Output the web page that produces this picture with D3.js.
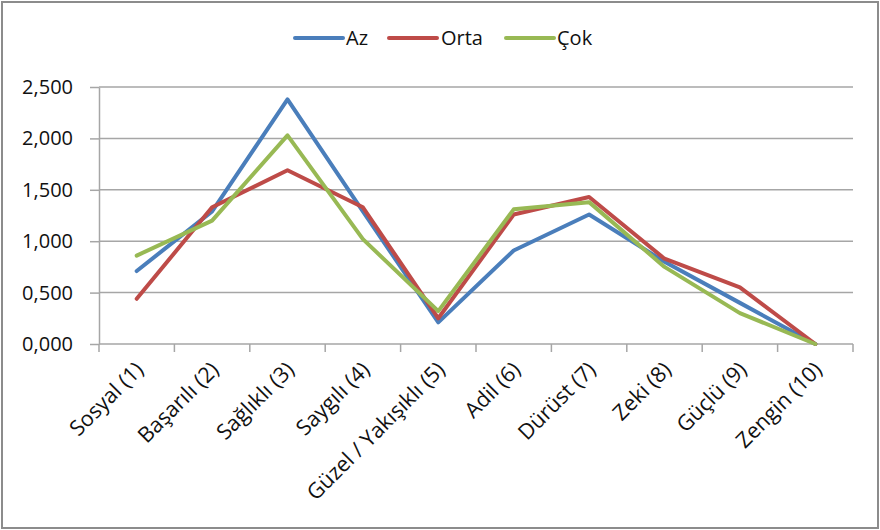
<!DOCTYPE html>
<html>
<head>
<meta charset="utf-8">
<script src="https://cdn.jsdelivr.net/npm/d3@7"></script>
<style>
  html, body { margin: 0; padding: 0; background: #fff; }
  svg { display: block; }
  text { font-family: "Open Sans", "Noto Sans", sans-serif; fill: #111; }
</style>
</head>
<body>
<svg id="chart" width="880" height="530"></svg>
<script>
const categories = ["Sosyal (1)", "Başarılı (2)", "Sağlıklı (3)", "Saygılı (4)", "Güzel / Yakışıklı (5)",
                    "Adil (6)", "Dürüst (7)", "Zeki (8)", "Güçlü (9)", "Zengin (10)"];
const seriesNames = ["Az", "Orta", "Çok"];
const azValues   = [0.71, 1.29, 2.38, 1.29, 0.21, 0.91, 1.26, 0.80, 0.40, 0.00];
const ortaValues = [0.44, 1.33, 1.69, 1.33, 0.25, 1.26, 1.43, 0.83, 0.55, 0.00];
const cokValues  = [0.86, 1.20, 2.03, 1.02, 0.32, 1.31, 1.38, 0.75, 0.30, 0.00];
const yTicks = [0, 0.5, 1.0, 1.5, 2.0, 2.5];
const colors = ["#4A7EBB", "#BE4B48", "#98B954"];

const series = [azValues, ortaValues, cokValues].map((v, i) => ({ name: seriesNames[i], values: v, color: colors[i] }));

const svg = d3.select("#chart");
const W = 880, H = 530;
const plot = { left: 99, right: 853, top: 87, bottom: 344 };

// outer frame
svg.append("rect").attr("x", 2).attr("y", 2).attr("width", W - 4).attr("height", H - 4)
  .attr("fill", "#fff").attr("stroke", "#8c8c8c").attr("stroke-width", 2);

const x = d3.scaleBand().domain(categories).range([plot.left, plot.right]).paddingInner(0).paddingOuter(0);
const y = d3.scaleLinear().domain([0, 2.5]).range([plot.bottom, plot.top]);

const trLocale = d3.formatLocale({ decimal: ",", thousands: ".", grouping: [3], currency: ["", ""] });
const fmt = trLocale.format(".3f");

// gridlines
svg.append("g").selectAll("line").data(yTicks.filter(t => t > 0)).join("line")
  .attr("x1", plot.left).attr("x2", plot.right)
  .attr("y1", d => y(d)).attr("y2", d => y(d))
  .attr("stroke", "#a6a6a6").attr("stroke-width", 1.5);

// y axis
const yAxis = d3.axisLeft(y).tickValues(yTicks).tickFormat(fmt).tickSize(9).tickSizeOuter(0).tickPadding(17);
const gy = svg.append("g").attr("transform", `translate(${plot.left},0)`).call(yAxis);
gy.select(".domain").attr("stroke", "#a6a6a6").attr("stroke-width", 1.5);
gy.selectAll(".tick line").attr("stroke", "#a6a6a6").attr("stroke-width", 1.5);
gy.selectAll(".tick text").attr("font-size", 20).attr("fill", "#111")
  .style("font-family", "'Open Sans', 'Noto Sans', sans-serif");

// x axis with ticks at band boundaries
const gx = svg.append("g").attr("transform", `translate(0,${plot.bottom})`);
gx.append("line").attr("x1", plot.left).attr("x2", plot.right).attr("y1", 0).attr("y2", 0)
  .attr("stroke", "#a6a6a6").attr("stroke-width", 1.5);
const boundaries = categories.map(c => x(c)).concat([x(categories[categories.length - 1]) + x.bandwidth()]);
gx.selectAll("line.tk").data(boundaries).join("line").attr("class", "tk")
  .attr("x1", d => d).attr("x2", d => d).attr("y1", 0).attr("y2", 8)
  .attr("stroke", "#a6a6a6").attr("stroke-width", 1.5);
gx.selectAll("text.lbl").data(categories).join("text").attr("class", "lbl")
  .attr("transform", d => `translate(${x(d) + x.bandwidth() / 2 + 8},${27}) rotate(-45)`)
  .attr("text-anchor", "end")
  .attr("font-size", 21.5)
  .text(d => d);

// lines
const line = d3.line().x((d, i) => x(categories[i]) + x.bandwidth() / 2).y(d => y(d));
svg.append("g").selectAll("path").data(series).join("path")
  .attr("d", d => line(d.values))
  .attr("fill", "none").attr("stroke", d => d.color).attr("stroke-width", 4)
  .attr("stroke-linejoin", "round").attr("stroke-linecap", "round");

// legend
const legendItems = [
  { lx: 295, tx: 346 },
  { lx: 389, tx: 441 },
  { lx: 506, tx: 557 }
];
const lg = svg.append("g");
series.forEach((s, i) => {
  const it = legendItems[i];
  lg.append("line").attr("x1", it.lx).attr("x2", it.lx + 48).attr("y1", 38).attr("y2", 38)
    .attr("stroke", s.color).attr("stroke-width", 4).attr("stroke-linecap", "round");
  lg.append("text").attr("x", it.tx).attr("y", 38).attr("dy", "0.35em").attr("font-size", 20).text(s.name);
});
</script>
</body>
</html>
